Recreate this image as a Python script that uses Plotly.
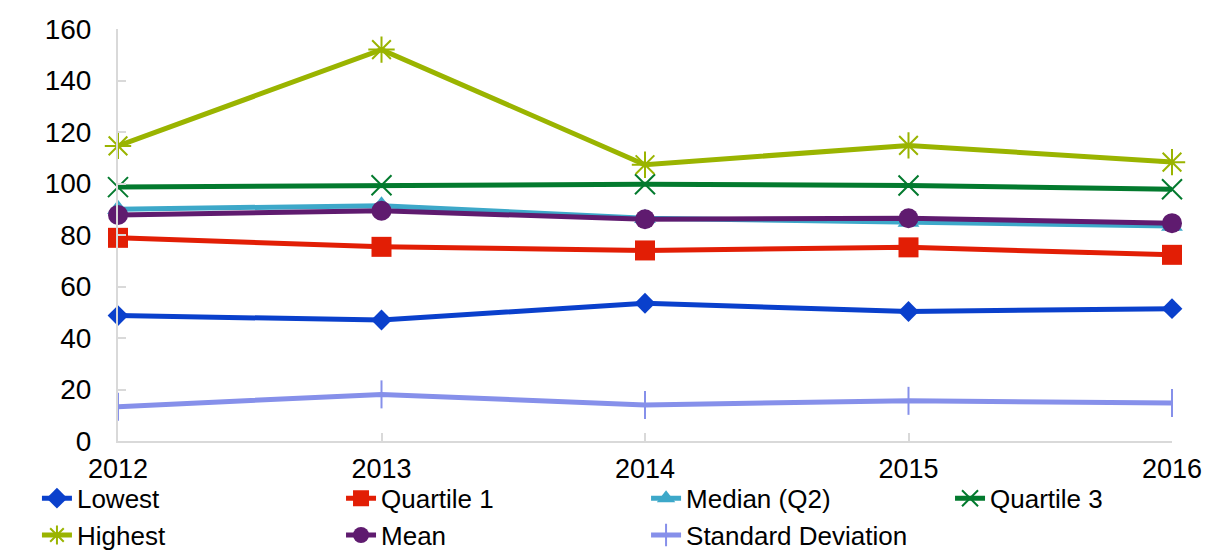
import plotly.graph_objects as go

# Yearly summary statistics
years = [2012, 2013, 2014, 2015, 2016]
lowest = [48.7, 47.0, 53.5, 50.3, 51.4]
quartile1 = [78.9, 75.4, 74.0, 75.2, 72.3]
median_q2 = [90.0, 91.4, 86.5, 85.0, 83.5]
quartile3 = [98.6, 99.3, 99.7, 99.2, 97.8]
highest = [114.6, 152.0, 107.3, 114.8, 108.3]
mean_vals = [87.8, 89.4, 86.1, 86.5, 84.6]
std_dev = [13.3, 18.1, 14.0, 15.6, 14.8]

tick_labels = ["2012", "2013", "2014", "2015", "2016"]

# name, values, colour, marker spec, legend column
series = [
    ("Lowest", lowest, "#0A40CC", dict(symbol="diamond", size=16), "legend"),
    ("Quartile 1", quartile1, "#E21E05", dict(symbol="square", size=20), "legend2"),
    ("Median (Q2)", median_q2, "#3DA8C9", dict(symbol="triangle-up", size=19), "legend3"),
    ("Quartile 3", quartile3, "#037A2E", dict(symbol="x-thin", size=20, lw=2), "legend4"),
    ("Highest", highest, "#9AB400", dict(symbol="asterisk", size=22, lw=2), "legend"),
    ("Mean", mean_vals, "#5F1B6F", dict(symbol="circle", size=20), "legend2"),
    ("Standard Deviation", std_dev, "#8690EA", dict(symbol="line-ns", size=20, lw=2), "legend3"),
]

fig = go.Figure()
for name, vals, color, m, leg in series:
    marker = dict(symbol=m["symbol"], size=m["size"], color=color)
    if "lw" in m:
        marker["line"] = dict(color=color, width=m["lw"])
    else:
        marker["line"] = dict(width=0)
    fig.add_trace(go.Scatter(
        x=years, y=vals, name=name, mode="lines+markers",
        line=dict(color=color, width=5),
        marker=marker, cliponaxis=False,
        legend=leg, legendgroup=name,
    ))

font_family = "Liberation Sans, Arial, sans-serif"


def legend_column(x):
    return dict(
        orientation="v", x=x, xanchor="left", y=-0.082, yanchor="top",
        font=dict(size=26, family=font_family, color="black"),
        bgcolor="rgba(0,0,0,0)", traceorder="normal", tracegroupgap=0,
    )


fig.update_layout(
    width=1208, height=551,
    margin=dict(l=118, r=36, t=29, b=110, autoexpand=False),
    paper_bgcolor="white", plot_bgcolor="white",
    font=dict(family=font_family, color="black", size=26),
    showlegend=True,
    legend=legend_column(-0.0769),
    legend2=legend_column(0.2116),
    legend3=legend_column(0.5010),
    legend4=legend_column(0.7894),
    xaxis=dict(
        range=[2012, 2016], tickvals=years, ticktext=tick_labels,
        showgrid=False, zeroline=False,
        showline=True, linecolor="#D9D9D9", linewidth=2,
        ticks="inside", ticklen=8, tickcolor="#D9D9D9", tickwidth=2,
        tickfont=dict(size=27), ticklabelstandoff=3,
    ),
    yaxis=dict(
        range=[0, 160], dtick=20,
        showgrid=False, zeroline=False,
        showline=True, linecolor="#D9D9D9", linewidth=2,
        ticks="inside", ticklen=8, tickcolor="#D9D9D9", tickwidth=2,
        tickfont=dict(size=28), ticklabelstandoff=19,
    ),
)

fig.write_html("out.html")
